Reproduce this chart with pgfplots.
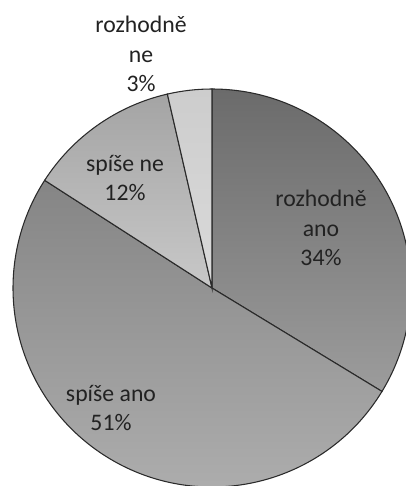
\documentclass[border=0pt]{standalone}
\usepackage{pgfplots}
\pgfplotsset{compat=1.18}
\usepackage{pgfplotstable}
\usepackage{fontspec}
\setmainfont{Carlito}
\definecolor{aTop}{HTML}{6B6B6B}
\definecolor{aBot}{HTML}{9C9C9C}
\definecolor{bTop}{HTML}{858585}
\definecolor{bBot}{HTML}{B0B0B0}
\definecolor{cTop}{HTML}{A4A4A4}
\definecolor{cBot}{HTML}{C8C8C8}
\definecolor{dTop}{HTML}{CDCDCD}
\definecolor{dBot}{HTML}{DADADA}
\definecolor{edge}{HTML}{2A2A2A}
\definecolor{txt}{HTML}{222222}
\pgfplotstableread{
label value
rozhodne_ano 33.7
spise_ano 50.4
spise_ne 12.3
rozhodne_ne 3.6
}\piedata
\pgfplotstablegetelem{0}{value}\of\piedata \let\vA\pgfplotsretval
\pgfplotstablegetelem{1}{value}\of\piedata \let\vB\pgfplotsretval
\pgfplotstablegetelem{2}{value}\of\piedata \let\vC\pgfplotsretval
\pgfplotstablegetelem{3}{value}\of\piedata \let\vD\pgfplotsretval
\pgfmathsetmacro\aA{90}
\pgfmathsetmacro\aB{\aA-3.6*\vA}
\pgfmathsetmacro\aC{\aB-3.6*\vB}
\pgfmathsetmacro\aD{\aC-3.6*\vC}
\pgfmathsetmacro\aE{\aD-3.6*\vD}
\begin{document}
\begin{tikzpicture}
\begin{axis}[name=ax, scale only axis, width=304.5pt, height=364.5pt,
  xmin=0, xmax=406, ymin=0, ymax=486, hide axis, clip=true]
\addplot[draw=none, forget plot] coordinates {(0,0) (406,486)};
\def\R{149.25pt}
\shade[top color=aTop, bottom color=aBot, draw=edge, line width=0.8pt]
  (axis cs:212,198) -- ++(\aA:\R) arc[start angle=\aA, end angle=\aB, radius=\R] -- cycle;
\shade[top color=bTop, bottom color=bBot, draw=edge, line width=0.8pt]
  (axis cs:212,198) -- ++(\aB:\R) arc[start angle=\aB, end angle=\aC, radius=\R] -- cycle;
\shade[top color=cTop, bottom color=cBot, draw=edge, line width=0.8pt]
  (axis cs:212,198) -- ++(\aC:\R) arc[start angle=\aC, end angle=\aD, radius=\R] -- cycle;
\shade[top color=dTop, bottom color=dBot, draw=edge, line width=0.8pt]
  (axis cs:212,198) -- ++(\aD:\R) arc[start angle=\aD, end angle=\aE, radius=\R] -- cycle;
\begin{scope}[every node/.style={align=center, inner sep=0pt, text=txt,
   font=\fontsize{17.8}{22.1}\selectfont}]
\node at (axis cs:141,432) {rozhodně\\ne\\3\%};
\node at (axis cs:125,308) {spíše ne\\12\%};
\node at (axis cs:321,258) {rozhodně\\ano\\34\%};
\node at (axis cs:111,78) {spíše ano\\51\%};
\end{scope}
\coordinate (bl) at (rel axis cs:0,0);
\coordinate (tr) at (rel axis cs:1,1);
\end{axis}
\pgfresetboundingbox
\path[use as bounding box] (bl) rectangle (tr);
\end{tikzpicture}
\end{document}
